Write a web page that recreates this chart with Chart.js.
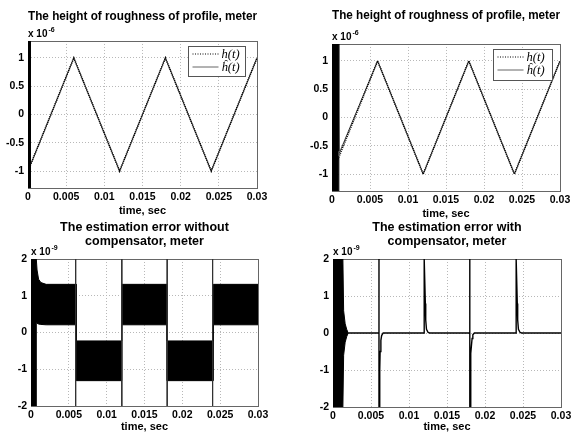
<!DOCTYPE html>
<html>
<head>
<meta charset="utf-8">
<script src="https://cdn.jsdelivr.net/npm/chart.js@4.4.0/dist/chart.umd.min.js"></script>
<style>
  body { margin: 0; background: #fff; }
  #wrap { position: relative; width: 571px; height: 432px; }
  canvas { position: absolute; left: 0; top: 0; }
</style>
</head>
<body>
<div id="wrap">
  <canvas id="c1" width="571" height="432"></canvas>
  <canvas id="c2" width="571" height="432"></canvas>
  <canvas id="c3" width="571" height="432"></canvas>
  <canvas id="c4" width="571" height="432"></canvas>
</div>
<script>
// ticks
const xTicks = [0, 0.005, 0.01, 0.015, 0.02, 0.025, 0.03];
const hTicks = [-1, -0.5, 0, 0.5, 1];
const eTicks = [-2, -1, 0, 1, 2];

// true profile h(t), x 1e-6 m (same in both top plots)
const profT = [0, 0.006, 0.012, 0.018, 0.024, 0.03];
const profH = [-1, 1, -1, 1, -1, 1];

// estimate, without compensator (top left)
const estLT = [0.0004, 0.006, 0.012, 0.018, 0.024, 0.03];
const estLH = [-0.87, 1, -1, 1, -1, 1];
const burstLT = [0, 0.0004];
const burstLHi = [1.3, 1.3];
const burstLLo = [-1.3, -1.3];

// estimate, with compensator (top right)
const estRT = [0.0009, 0.006, 0.012, 0.018, 0.024, 0.03];
const estRH = [-0.65, 1, -1, 1, -1, 1];
const burstRT = [0, 0.0008, 0.0009];
const burstRHi = [1.3, 1.3, -0.6];
const burstRLo = [-1.3, -1.3, -0.7];

// error without compensator, x 1e-9 m: envelope of the fast oscillation
const errLT  = [0, 0.0007, 0.0007, 0.0008, 0.001, 0.0013, 0.002, 0.006, 0.006, 0.012, 0.012, 0.018, 0.018, 0.0241, 0.0241, 0.03];
const errLHi = [2, 2, 2, 1.7, 1.45, 1.36, 1.31, 1.31, -0.23, -0.23, 1.31, 1.31, -0.23, -0.23, 1.31, 1.31];
const errLLo = [-2, -2, 0.27, 0.25, 0.23, 0.22, 0.21, 0.21, -1.31, -1.31, 0.21, 0.21, -1.31, -1.31, 0.21, 0.21];
const spikeLT = [0.0059, 0.012, 0.018, 0.024];
const spikeLHi = [2, 2, 2, 2];
const spikeLLo = [-2, -2, -2, -2];

// error with compensator
const burstET  = [0, 0.0013, 0.0014, 0.0016, 0.0018, 0.002];
const burstEHi = [2, 2, 0.6, 0.25, 0.1, 0];
const burstELo = [-2, -2, -0.6, -0.25, -0.1, 0];
const errRT = [0.002, 0.00605, 0.00605, 0.00605, 0.0061, 0.00615, 0.0062, 0.0063, 0.0064, 0.0066,
               0.012, 0.012, 0.01215, 0.0122, 0.0123, 0.0125, 0.0127,
               0.018, 0.018, 0.018, 0.01805, 0.0181, 0.01815, 0.0183, 0.0184, 0.0186,
               0.0241, 0.0241, 0.02425, 0.0243, 0.0244, 0.0246, 0.0248, 0.03];
const errRE = [0, 0, 2, -2, -2, -1.0, -0.5, -0.2, -0.07, 0,
               0, 2, 0.8, 0.35, 0.1, 0.02, 0,
               0, 2, -2, -2, -1.2, -0.55, -0.15, -0.05, 0,
               0, 2, 0.8, 0.35, 0.1, 0.02, 0, 0];

const fam = "'Liberation Sans', Arial, sans-serif";
Chart.defaults.font.family = fam;
Chart.defaults.color = '#000';
Chart.defaults.animation = false;

const tickFont = { size: 10.5, weight: 'bold' };

function pts(xs, ys) {
  return xs.map((x, i) => ({ x: x, y: ys[i] }));
}
function spikes(xs, hi, lo) {
  const out = [];
  xs.forEach((x, i) => { out.push({ x: x, y: hi[i] }, { x: x, y: lo[i] }, { x: x, y: null }); });
  return out;
}

function xAxis(h) {
  return {
    type: 'linear', min: 0, max: 0.03,
    afterBuildTicks: s => { s.ticks = xTicks.map(v => ({ value: v })); },
    afterFit: s => { s.height = h; s.paddingLeft = 0; s.paddingRight = 0; },
    ticks: { padding: 3, maxRotation: 0, font: tickFont,
             callback: v => v === 0 ? '0' : String(+v.toFixed(3)) },
    grid: { color: '#b8b8b8', drawTicks: false },
    border: { display: false, dash: [1, 2] },
    title: { display: true, text: 'time, sec', padding: 0,
             font: { size: 11, weight: 'bold', lineHeight: 1 } }
  };
}
function yAxis(w, lim, ticks) {
  return {
    min: -lim, max: lim,
    afterBuildTicks: s => { s.ticks = ticks.map(v => ({ value: v })); },
    afterFit: s => { s.width = w; },
    ticks: { padding: 4, font: tickFont, callback: v => String(v) },
    grid: { color: '#b8b8b8', drawTicks: false },
    border: { display: false, dash: [1, 2] }
  };
}

// frame, exponent label and legend box
const decor = {
  id: 'decor',
  beforeDatasetsDraw(chart) {
    const a = chart.chartArea, ctx = chart.ctx;
    ctx.save();
    ctx.strokeStyle = '#666';
    ctx.lineWidth = 1;
    ctx.strokeRect(Math.round(a.left) + 0.5, Math.round(a.top) + 0.5,
                   Math.round(a.right - a.left), Math.round(a.bottom - a.top));
    ctx.restore();
  },
  afterDatasetsDraw(chart, args, opts) {
    const a = chart.chartArea, ctx = chart.ctx;
    ctx.save();
    ctx.fillStyle = '#000';
    ctx.textAlign = 'left';
    ctx.textBaseline = 'alphabetic';
    ctx.font = 'bold 10px ' + fam;
    ctx.fillText('x 10', a.left, a.top - 4);
    const w = ctx.measureText('x 10').width;
    ctx.font = 'bold 7px ' + fam;
    ctx.fillText(opts.exp, a.left + w + 1, a.top - 9);

    if (opts.legend) {
      const L = opts.legend;
      const x = Math.round(a.right - L.right - L.w) + 0.5;
      const y = Math.round(a.top + L.top) + 0.5;
      ctx.fillStyle = '#fff';
      ctx.fillRect(x, y, L.w, L.h);
      ctx.strokeStyle = '#555';
      ctx.lineWidth = 1;
      ctx.strokeRect(x, y, L.w, L.h);
      ctx.strokeStyle = '#000';
      ctx.setLineDash([1, 1.5]);
      ctx.beginPath(); ctx.moveTo(x + 4, y + 7.5); ctx.lineTo(x + 30, y + 7.5); ctx.stroke();
      ctx.setLineDash([]);
      ctx.strokeStyle = '#666';
      ctx.beginPath(); ctx.moveTo(x + 4, y + 20.5); ctx.lineTo(x + 30, y + 20.5); ctx.stroke();
      ctx.fillStyle = '#000';
      ctx.font = 'italic 12.5px "Liberation Serif", "Times New Roman", serif';
      ctx.textBaseline = 'middle';
      ctx.fillText('h(t)', x + 33, y + 8);
      ctx.fillText('ĥ(t)', x + 33, y + 21);
    }
    ctx.restore();
  }
};

function titleOpt(text, top, bottom, lh) {
  return { display: true, text: text, fullSize: false, color: '#000',
           font: { size: 12.5, weight: 'bold', lineHeight: lh },
           padding: { top: top, bottom: bottom } };
}

function profileChart(id, estT, estH, bT, bHi, bLo, pad, yW, xH, tTop, tBot, legend) {
  return new Chart(document.getElementById(id), {
    type: 'line',
    data: {
      datasets: [
        { data: pts(profT, profH), borderColor: '#000', borderWidth: 1.6, borderDash: [1, 1], pointRadius: 0 },
        { data: pts(estT, estH), borderColor: '#444', borderWidth: 1, pointRadius: 0 },
        { data: pts(bT, bHi), borderColor: '#000', borderWidth: 1, pointRadius: 0 },
        { data: pts(bT, bLo), borderColor: '#000', borderWidth: 1, pointRadius: 0,
          fill: '-1', backgroundColor: '#000' }
      ]
    },
    options: {
      responsive: false,
      layout: { padding: pad },
      scales: { x: xAxis(xH), y: yAxis(yW, 1.3, hTicks) },
      plugins: {
        legend: { display: false },
        tooltip: { enabled: false },
        title: titleOpt('The height of roughness of profile, meter', tTop, tBot, 1.15),
        decor: { exp: '-6', legend: legend }
      }
    },
    plugins: [decor]
  });
}

profileChart('c1', estLT, estLH, burstLT, burstLHi, burstLLo,
  { left: 0, top: 0, right: 314, bottom: 215.5 }, 28, 28.5, 9.3, 17.3,
  { right: 12, top: 5, w: 57, h: 30 });
profileChart('c2', estRT, estRH, burstRT, burstRHi, burstRLo,
  { left: 285, top: 0, right: 11, bottom: 212.5 }, 47, 28.5, 8.8, 20.8,
  { right: 8, top: 5, w: 59, h: 31 });

new Chart(document.getElementById('c3'), {
  type: 'line',
  data: {
    datasets: [
      { data: spikes(spikeLT, spikeLHi, spikeLLo), borderColor: '#333', borderWidth: 1, pointRadius: 0, spanGaps: false },
      { data: pts(errLT, errLHi), borderColor: '#000', borderWidth: 1, pointRadius: 0 },
      { data: pts(errLT, errLLo), borderColor: '#000', borderWidth: 1, pointRadius: 0,
        fill: '-1', backgroundColor: '#000' }
    ]
  },
  options: {
    responsive: false,
    layout: { padding: { left: 0, top: 215, right: 313, bottom: 0 } },
    scales: { x: xAxis(26), y: yAxis(31, 2, eTicks) },
    plugins: {
      legend: { display: false },
      tooltip: { enabled: false },
      title: titleOpt(['The estimation error without', 'compensator, meter'], 6, 10, 1.12),
      decor: { exp: '-9' }
    }
  },
  plugins: [decor]
});

new Chart(document.getElementById('c4'), {
  type: 'line',
  data: {
    datasets: [
      { data: pts(errRT, errRE), borderColor: '#000', borderWidth: 1.4, pointRadius: 0 },
      { data: pts(burstET, burstEHi), borderColor: '#000', borderWidth: 1, pointRadius: 0 },
      { data: pts(burstET, burstELo), borderColor: '#000', borderWidth: 1, pointRadius: 0,
        fill: '-1', backgroundColor: '#000' }
    ]
  },
  options: {
    responsive: false,
    layout: { padding: { left: 285, top: 215, right: 10, bottom: 0 } },
    scales: { x: xAxis(25), y: yAxis(48, 2, eTicks) },
    plugins: {
      legend: { display: false },
      tooltip: { enabled: false },
      title: titleOpt(['The estimation error with', 'compensator, meter'], 6, 10, 1.12),
      decor: { exp: '-9' }
    }
  },
  plugins: [decor]
});
</script>
</body>
</html>
